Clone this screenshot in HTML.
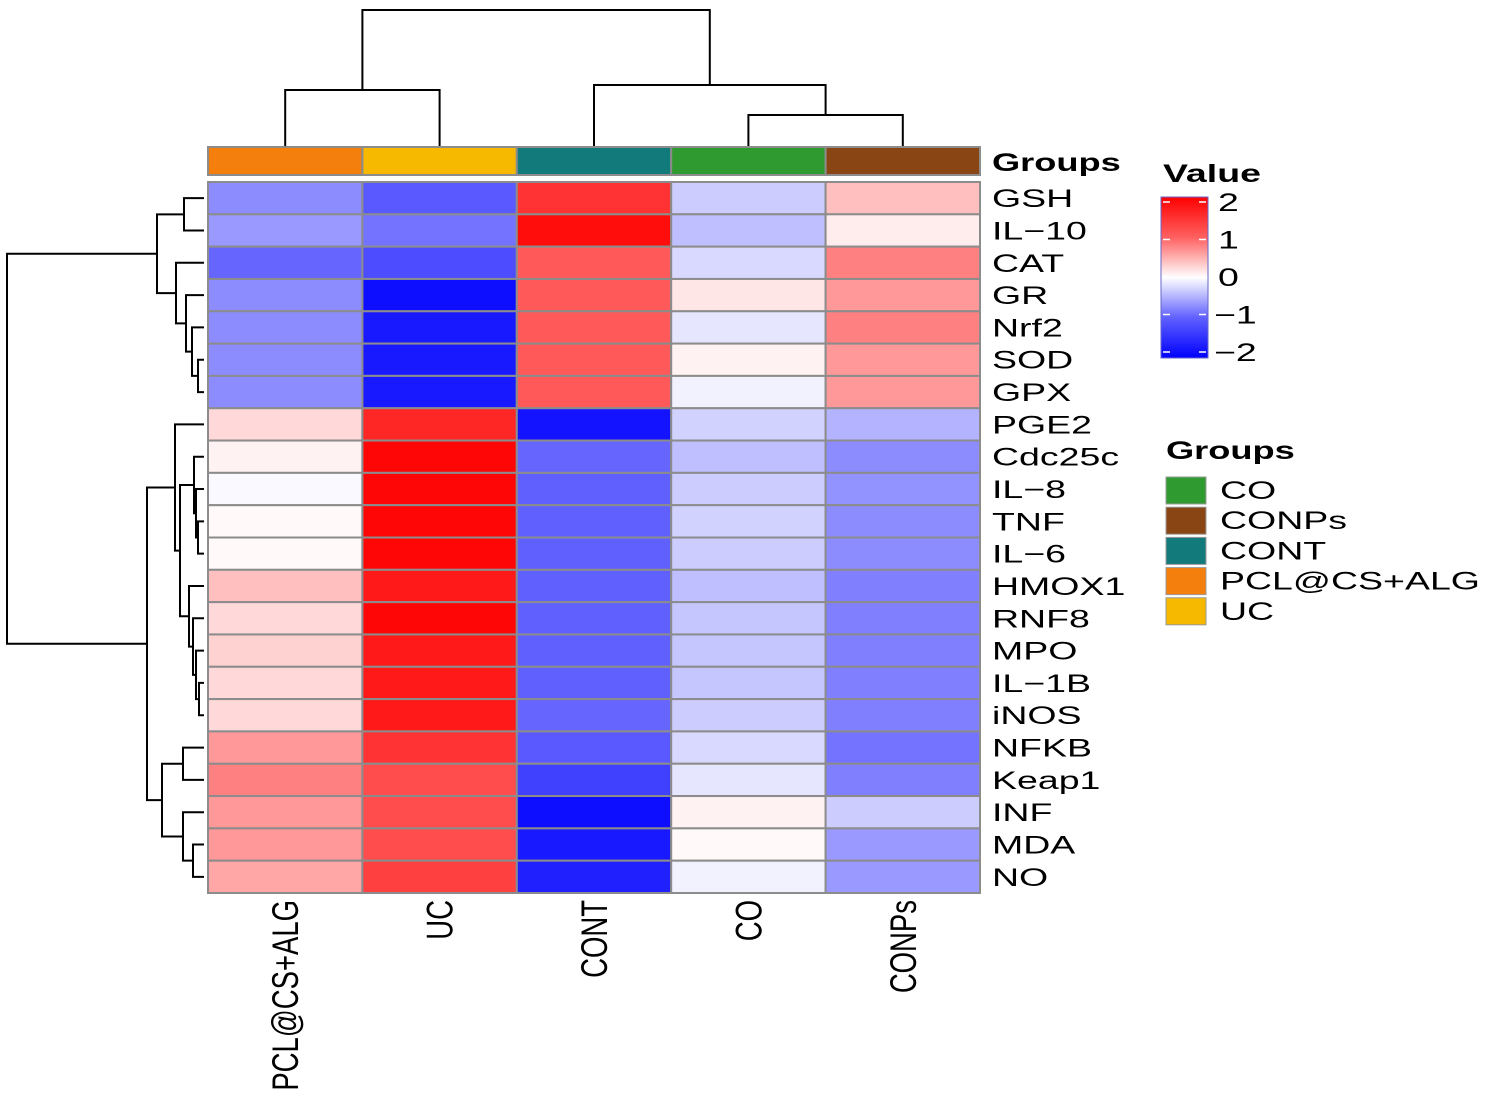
<!DOCTYPE html>
<html><head><meta charset="utf-8"><style>
body{margin:0;background:#fff;}
svg text{font-family:"Liberation Sans",Arial,sans-serif;}
</style></head><body>
<svg id="chart" width="1499" height="1102" xmlns="http://www.w3.org/2000/svg">
<defs>
<linearGradient id="cbar" x1="0" y1="0" x2="0" y2="1">
<stop offset="0" stop-color="#ff0000"/><stop offset="0.25" stop-color="#ff6060"/>
<stop offset="0.5" stop-color="#ffffff"/><stop offset="0.75" stop-color="#6060ff"/>
<stop offset="1" stop-color="#0000ff"/></linearGradient>
</defs>
<g id="dendro-top"></g>
<g id="dendro-left"></g>
<g id="annot"></g>
<g id="cells"></g>
<g id="rowlabels"></g>
<g id="collabels"></g>
<text x="992" y="171" font-size="25" font-weight="bold" transform="matrix(1.45,0,0,1,-446.4,0)">Groups</text>
<g>
<text x="1163" y="182" font-size="25" font-weight="bold" transform="matrix(1.5,0,0,1,-581.5,0)">Value</text>
<rect x="1161" y="197" width="47" height="161" fill="url(#cbar)" stroke="#6666cc" stroke-width="1"/>
<g id="cticks"></g>
</g>
<g>
<text x="1166" y="459" font-size="25" font-weight="bold" transform="matrix(1.45,0,0,1,-524.7,0)">Groups</text>
<g id="glegend"></g>
</g>
</svg>
<script>
const rowNames=["GSH","IL\u221210","CAT","GR","Nrf2","SOD","GPX","PGE2","Cdc25c","IL\u22128","TNF","IL\u22126","HMOX1","RNF8","MPO","IL\u22121B","iNOS","NFKB","Keap1","INF","MDA","NO"];
const colNames=["PCL@CS+ALG","UC","CONT","CO","CONPs"];
const colGroupColors=["#f57f0c","#f7b900","#127a7a","#2f9a2f","#8a4514"];
const valPCL=[-0.9,-0.8,-1.2,-0.9,-0.9,-0.9,-0.9,0.3,0.1,-0.05,0.05,0.05,0.5,0.3,0.35,0.3,0.3,0.8,1.0,0.8,0.8,0.7];
const valUC=[-1.3,-1.1,-1.4,-1.9,-1.8,-1.8,-1.8,1.7,1.95,1.95,1.95,1.95,1.8,1.95,1.8,1.8,1.8,1.6,1.4,1.4,1.4,1.5];
const valCONT=[1.6,1.9,1.3,1.3,1.3,1.3,1.3,-1.85,-1.2,-1.25,-1.25,-1.25,-1.25,-1.25,-1.25,-1.25,-1.2,-1.3,-1.5,-1.9,-1.8,-1.75];
const valCO=[-0.4,-0.5,-0.3,0.2,-0.2,0.1,-0.1,-0.35,-0.5,-0.4,-0.35,-0.4,-0.5,-0.45,-0.45,-0.45,-0.4,-0.3,-0.2,0.1,0.05,-0.1];
const valCONPs=[0.5,0.15,1.0,0.8,1.0,0.8,0.8,-0.6,-0.9,-0.85,-0.9,-0.9,-1.0,-1.0,-1.0,-1.0,-1.0,-1.1,-1.0,-0.4,-0.8,-0.8];
const legendTicks=[2,1,0,-1,-2];
const legendGroups=["CO","CONPs","CONT","PCL@CS+ALG","UC"];
const legendColors=["#2f9a2f","#8a4514","#127a7a","#f57f0c","#f7b900"];
// dendrogram trees: [height, left, right]
const rowTree=[7,[157,[184,0,1],[176,2,[186,3,[192,4,[198,5,6]]]]],[147,[175,7,[180,[194,8,[196,9,[198,10,11]]],[189,12,[193,13,[196,14,[199,15,16]]]]]],[162,[183,17,18],[183,19,[193,20,21]]]]];
const colTree=[10,[90,0,1],[85,2,[115,3,4]]];

const NS="http://www.w3.org/2000/svg";
const X0=208,X1=980,Y0=182,Y1=893;
const cw=(X1-X0)/colNames.length, rh=(Y1-Y0)/rowNames.length;
const colX=j=>X0+cw*j, rowY=i=>Y0+rh*i;
const lY=v=>202+(2-v)*(352-202)/4;
const SX=1.5;
function color(v){v=Math.max(-2,Math.min(2,v));const t=Math.abs(v)/2;const o=Math.round(255*(1-t));return v>=0?`rgb(255,${o},${o})`:`rgb(${o},${o},255)`;}
function mk(tag,attrs,parent){const e=document.createElementNS(NS,tag);for(const k in attrs)e.setAttribute(k,attrs[k]);parent.appendChild(e);return e;}
function stretch(x){return `matrix(${SX},0,0,1,${(1-SX)*x},0)`;}
const series=[valPCL,valUC,valCONT,valCO,valCONPs];
const cells=document.getElementById('cells');
series.forEach((vals,j)=>vals.forEach((v,i)=>{
 const r=mk('rect',{x:colX(j),y:rowY(i),width:cw,height:rh,fill:color(v),stroke:'#8c8c8c','stroke-width':2},cells);
 
 
}));
const ann=document.getElementById('annot');
colGroupColors.forEach((c,j)=>{
 const r=mk('rect',{x:colX(j),y:147,width:cw,height:28,fill:c,stroke:'#8c8c8c','stroke-width':2},ann);
 
 
});
const rl=document.getElementById('rowlabels');
rowNames.forEach((n,i)=>{
 const t=mk('text',{x:992,y:rowY(i)+rh/2+9,'font-size':25,transform:stretch(992)},rl);t.textContent=n;
 
 
});
const cl=document.getElementById('collabels');
colNames.forEach((n,j)=>{
 const x=colX(j)+cw/2+13;
 const t=mk('text',{x:0,y:0,'font-size':25,'text-anchor':'end',transform:`translate(${x} 900) rotate(-90) scale(1.1 1.5)`},cl);t.textContent=n;
 
 
});
function drawTree(node,g,leafPos,leafEnd,horiz){
 if(typeof node==='number')return{pos:leafPos(node),h:leafEnd};
 const a=drawTree(node[1],g,leafPos,leafEnd,horiz),b=drawTree(node[2],g,leafPos,leafEnd,horiz);const h=node[0];
 let d;
 if(horiz)d=`M${a.h},${a.pos}H${h}V${b.pos}H${b.h}`;
 else d=`M${a.pos},${a.h}V${h}H${b.pos}V${b.h}`;
 const p=mk('path',{d:d,fill:'none',stroke:'#000','stroke-width':2},g);
 
 
 return{pos:(a.pos+b.pos)/2,h:h};
}
drawTree(rowTree,document.getElementById('dendro-left'),i=>rowY(i)+rh/2,204,true);
drawTree(colTree,document.getElementById('dendro-top'),j=>colX(j)+cw/2,147,false);
const ct=document.getElementById('cticks');
legendTicks.forEach(v=>{
 const y=lY(v);
 mk('line',{x1:1163,x2:1170,y1:y,y2:y,stroke:'#fff','stroke-width':1.5},ct);
 mk('line',{x1:1199,x2:1206,y1:y,y2:y,stroke:'#fff','stroke-width':1.5},ct);
 const tx=v<0?1214:1218;
 const t=mk('text',{x:tx,y:y+9,'font-size':25,transform:stretch(tx)},ct);t.textContent=v<0?'\u2212'+(-v):String(v);
 
 
});
const gl=document.getElementById('glegend');
legendGroups.forEach((n,k)=>{
 const y=477+k*30.2;
 const r=mk('rect',{x:1166,y:y,width:40,height:27,fill:legendColors[k],stroke:'#999','stroke-width':1},gl);
 
 
 const t=mk('text',{x:1220,y:y+22,'font-size':25,transform:stretch(1220)},gl);t.textContent=n;
 
 
});
</script>
</body></html>
